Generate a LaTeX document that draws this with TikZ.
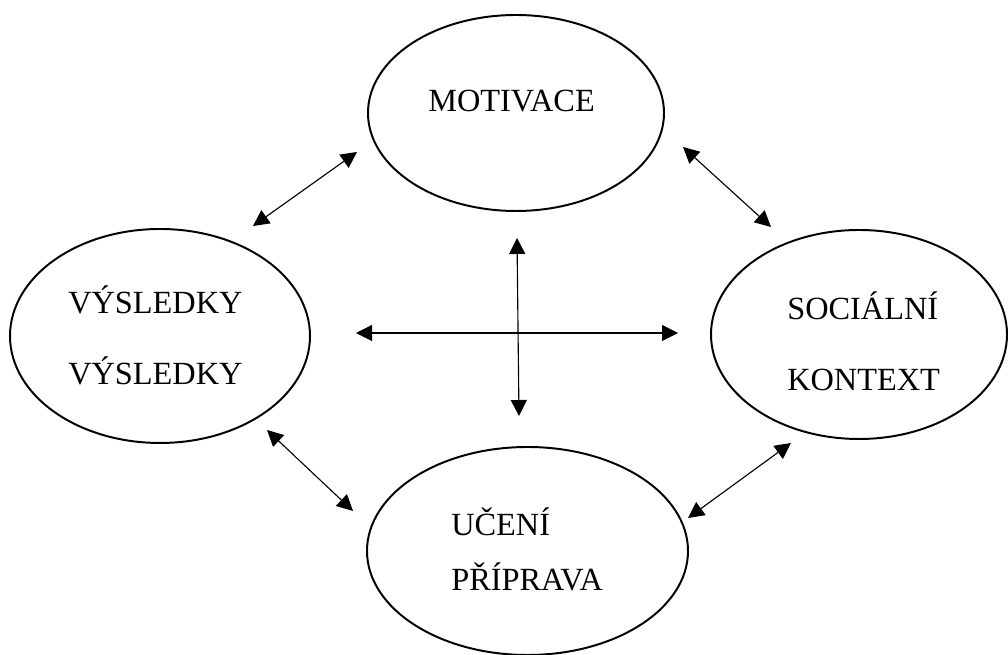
\documentclass[tikz,border=0pt]{standalone}
\usepackage{fontspec}
\setmainfont{Liberation Serif}
\usepackage{tikz}
\usetikzlibrary{arrows.meta, shapes.geometric}

\tikzset{
  bubble/.style={draw, ellipse, line width=1.4pt, inner sep=0pt},
  word/.style={inner sep=0pt, align=left, font=\fontsize{23}{50.5}\selectfont},
  both/.style={{Triangle[length=0.4cm,width=0.4cm]}-{Triangle[length=0.4cm,width=0.4cm]}, line width=0.8pt}
}

\begin{document}
\begin{tikzpicture}
\useasboundingbox (0,0) rectangle (25.2,16.375);

\node [bubble, minimum width=7.4cm, minimum height=4.9cm] (T1) at (12.9,13.55) {};
\node [bubble, minimum width=7.5cm, minimum height=5.35cm] (L1) at (4.0,7.975) {};
\node [bubble, minimum width=7.4cm, minimum height=5.225cm] (R1) at (21.475,8.0125) {};
\node [bubble, minimum width=8.025cm, minimum height=5.2cm] (B1) at (13.1875,2.6) {};


\node [word, anchor=base west] (T2) at (10.7,13.575) {MOTIVACE};
\node [word, anchor=west] (L2) at (1.7,8.0) {VÝSLEDKY\\VÝSLEDKY};
\node [word, anchor=west] (R2) at (19.675,7.8375) {SOCIÁLNÍ\\KONTEXT};
\node [word, anchor=west, font=\fontsize{23}{39.1}\selectfont] (B2) at (11.275,2.6375) {UČENÍ\\PŘÍPRAVA};


\coordinate (TL1) at (6.325,10.725);
\coordinate (TL2) at (8.925,12.575);
\coordinate (TR1) at (17.075,12.7);
\coordinate (TR2) at (19.275,10.7);
\coordinate (BL1) at (6.675,5.625);
\coordinate (BL2) at (8.825,3.6);
\coordinate (BR1) at (17.2,3.425);
\coordinate (BR2) at (19.775,5.3);

\coordinate (H1) at (8.9,8.05);
\coordinate (H2) at (16.95,8.05);
\coordinate (V1) at (12.925,10.425);
\coordinate (V2) at (12.975,5.975);

\foreach \s/\t in {TL1/TL2,
                   TR1/TR2,
                   BL1/BL2,
                   BR1/BR2,
                   H1/H2,
                   V1/V2}
    \draw [both] (\s) -- (\t);

\end{tikzpicture}
\end{document}
